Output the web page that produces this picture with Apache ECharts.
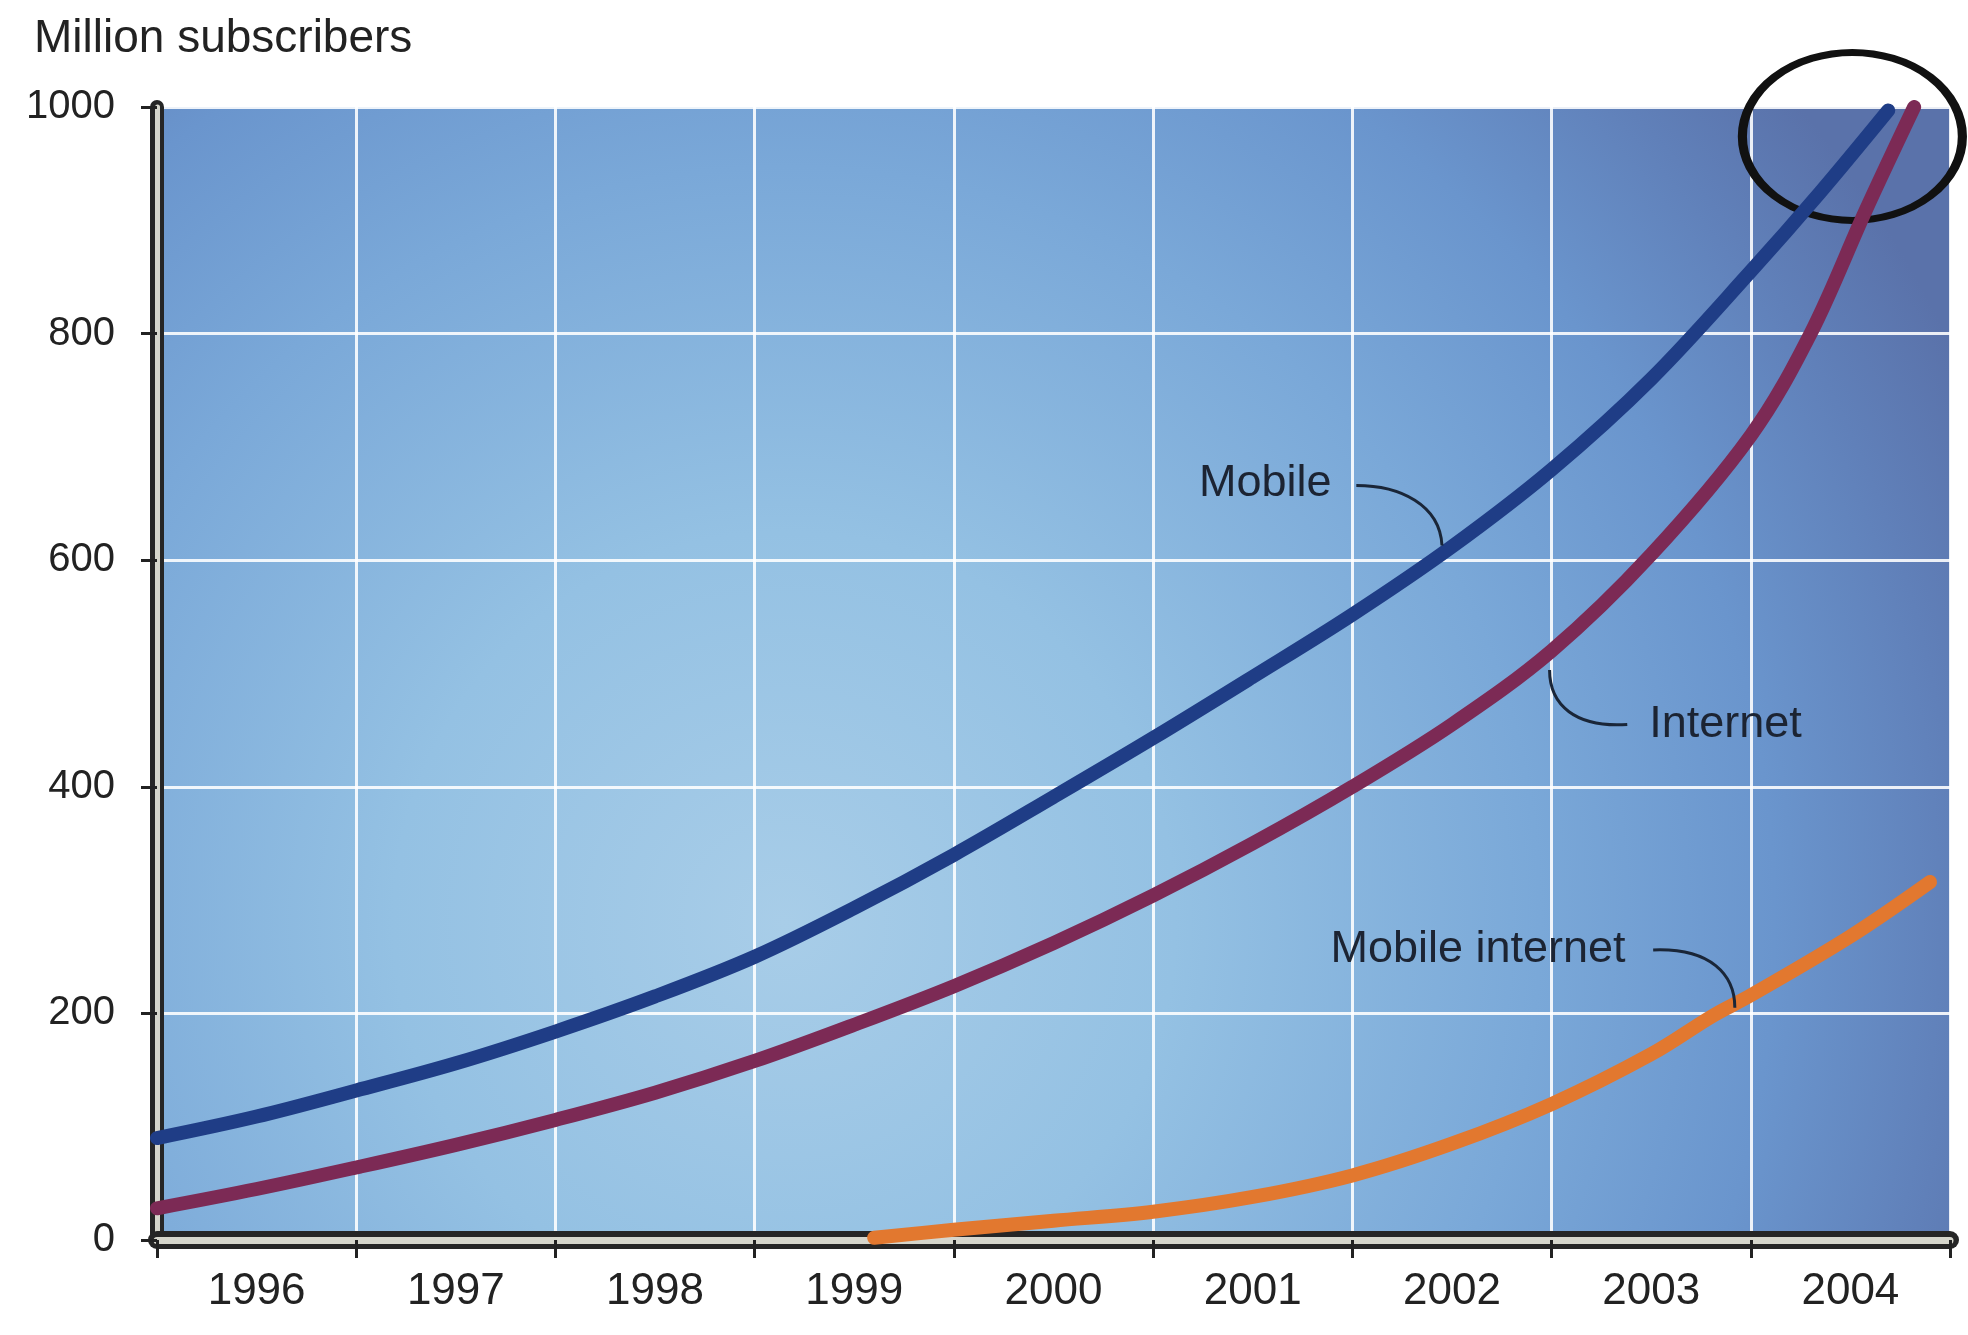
<!DOCTYPE html>
<html>
<head>
<meta charset="utf-8">
<title>Million subscribers</title>
<script src="https://cdn.jsdelivr.net/npm/echarts@6/dist/echarts.min.js"></script>
<style>
  html, body { margin: 0; padding: 0; background: #ffffff; }
  #chart { width: 1968px; height: 1335px; }
</style>
</head>
<body>
<div id="chart"></div>
<script>
// years shown on the x axis (each label sits in the middle of its year)
const years = ['1996', '1997', '1998', '1999', '2000', '2001', '2002', '2003', '2004']
const yMax = 1000
const yStep = 200

// [year position, million subscribers]
const mobile = [
  [1996.0, 90], [1996.5, 109], [1997.0, 132], [1997.5, 156], [1998.0, 184],
  [1998.5, 215], [1999.0, 250], [1999.5, 293], [2000.0, 340], [2000.5, 391],
  [2001.0, 443], [2001.5, 497], [2002.0, 552], [2002.5, 612], [2003.0, 680],
  [2003.5, 760], [2004.0, 855], [2004.35, 925], [2004.69, 997]
]
const internet = [
  [1996.0, 28], [1996.5, 45], [1997.0, 64], [1997.5, 84], [1998.0, 106],
  [1998.5, 130], [1999.0, 158], [1999.5, 190], [2000.0, 224], [2000.5, 262],
  [2001.0, 304], [2001.5, 350], [2002.0, 400], [2002.5, 455], [2003.0, 520],
  [2003.5, 605], [2004.0, 710], [2004.3, 800], [2004.58, 910], [2004.82, 1000]
]
const mobileInternet = [
  [1999.6, 2], [2000.0, 9], [2000.5, 17], [2001.0, 25], [2001.5, 38],
  [2002.0, 57], [2002.5, 85], [2003.0, 120], [2003.5, 164], [2003.81, 198],
  [2004.0, 216], [2004.5, 268], [2004.9, 316]
]

// callouts: label anchor and leader curve (start, ctrl1, ctrl2, end) in data units
const callouts = [
  { text: 'Mobile', at: [2001.23, 668],
    curve: [[2002.02, 666], [2002.24, 666], [2002.44, 649], [2002.45, 613]] },
  { text: 'Internet', at: [2003.49, 455],
    curve: [[2003.38, 455], [2003.12, 452], [2002.99, 472], [2002.99, 503]] },
  { text: 'Mobile internet', at: [2001.89, 256],
    curve: [[2003.51, 256], [2003.80, 258], [2003.92, 234], [2003.92, 205]] }
]

const FONT = 'Liberation Sans, Arial, Helvetica, sans-serif'

const chart = echarts.init(document.getElementById('chart'))

function lineSeries(name, data, color) {
  return {
    name: name,
    type: 'line',
    xAxisIndex: 1,
    yAxisIndex: 0,
    data: data,
    smooth: 0.35,
    symbol: 'none',
    lineStyle: { color: color, width: 14, cap: 'round', join: 'round' },
    z: 5
  }
}

const option = {
  animation: false,
  backgroundColor: '#ffffff',
  title: {
    text: 'Million subscribers',
    left: 29,
    top: 11,
    textStyle: { fontFamily: FONT, fontSize: 46, fontWeight: 'normal', color: '#222' }
  },
  grid: {
    left: 157,
    right: 18,
    top: 107,
    bottom: 95,
    show: true,
    borderWidth: 0,
    backgroundColor: new echarts.graphic.RadialGradient(0.35, 0.72, 1.15, [
      { offset: 0, color: '#a8cde8' },
      { offset: 0.3, color: '#94c1e3' },
      { offset: 0.58, color: '#7aa8d8' },
      { offset: 0.76, color: '#6a95cd' },
      { offset: 0.9, color: '#6080b9' },
      { offset: 1, color: '#5a72aa' }
    ])
  },
  xAxis: [
    {
      type: 'category',
      data: years,
      position: 'bottom',
      boundaryGap: true,
      axisLine: { show: true, lineStyle: { color: '#262626', width: 18, cap: 'round' } },
      axisTick: { show: true, inside: false, length: 18, lineStyle: { color: '#222', width: 3 } },
      axisLabel: { fontFamily: FONT, fontSize: 44, color: '#222', margin: 30 },
      splitLine: { show: true, lineStyle: { color: 'rgba(255,255,255,0.88)', width: 3 } }
    },
    {
      type: 'value',
      min: 1996,
      max: 2005,
      position: 'top',
      show: false
    },
    {
      type: 'category',
      data: years,
      position: 'bottom',
      axisLine: { show: true, lineStyle: { color: '#d6d6cc', width: 7, cap: 'round' } },
      axisTick: { show: false },
      axisLabel: { show: false },
      splitLine: { show: false }
    }
  ],
  yAxis: [
    {
      type: 'value',
      min: 0,
      max: yMax,
      interval: yStep,
      position: 'left',
      axisLine: { show: true, lineStyle: { color: '#262626', width: 14, cap: 'round' } },
      axisTick: { show: true, inside: false, length: 16, lineStyle: { color: '#222', width: 3 } },
      axisLabel: {
        fontFamily: FONT, fontSize: 40, color: '#222', margin: 42,
        formatter: function (v) { return String(v) }
      },
      splitLine: { show: true, lineStyle: { color: 'rgba(255,255,255,0.88)', width: 3 } }
    },
    {
      type: 'value',
      min: 0,
      max: yMax,
      interval: yStep,
      position: 'left',
      axisLine: { show: true, lineStyle: { color: '#d6d6cc', width: 5, cap: 'round' } },
      axisTick: { show: false },
      axisLabel: { show: false },
      splitLine: { show: false }
    }
  ],
  series: [
    lineSeries('Mobile', mobile, '#1f3d86'),
    lineSeries('Internet', internet, '#7c2a55'),
    lineSeries('Mobile internet', mobileInternet, '#e2782f'),
    {
      // the hand-drawn ring round the top right corner
      name: 'ring',
      type: 'line',
      xAxisIndex: 1,
      yAxisIndex: 0,
      data: [],
      markPoint: {
        symbol: 'circle',
        symbolSize: [220, 168],
        silent: true,
        label: { show: false },
        itemStyle: { color: 'rgba(0,0,0,0)', borderColor: '#111', borderWidth: 8 },
        data: [{ coord: [2004.51, 974] }]
      },
      z: 10
    }
  ]
}

chart.setOption(option)

// callout labels and their leader curves, placed through the axes
function px(pt) {
  return chart.convertToPixel({ seriesIndex: 0 }, pt)
}

const graphics = []
callouts.forEach(function (c) {
  const p = px(c.at)
  graphics.push({
    type: 'text',
    x: p[0],
    y: p[1],
    z: 20,
    style: {
      text: c.text,
      fontFamily: FONT,
      fontSize: 45,
      fill: '#1c2433',
      verticalAlign: 'middle',
      align: 'left'
    }
  })
  const a = px(c.curve[0]), b = px(c.curve[1]), d = px(c.curve[2]), e = px(c.curve[3])
  graphics.push({
    type: 'bezierCurve',
    z: 20,
    shape: { x1: a[0], y1: a[1], cpx1: b[0], cpy1: b[1], cpx2: d[0], cpy2: d[1], x2: e[0], y2: e[1] },
    style: { stroke: '#1a2638', lineWidth: 3, fill: null }
  })
})

chart.setOption({ graphic: graphics })
</script>
</body>
</html>
